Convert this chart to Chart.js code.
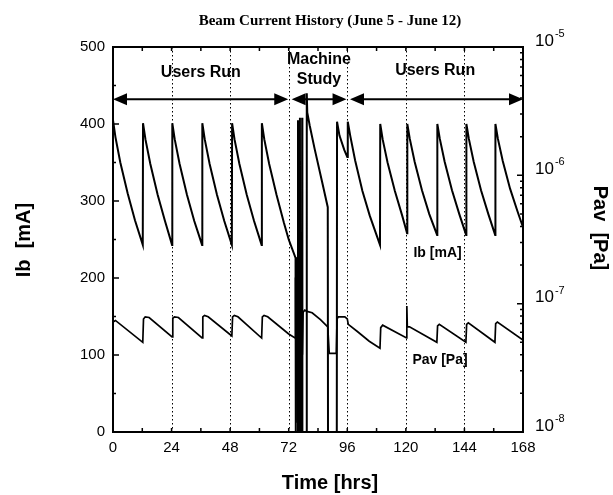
<!DOCTYPE html>
<html>
<head>
<meta charset="utf-8">
<script src="https://cdn.jsdelivr.net/npm/chart.js@4/dist/chart.umd.min.js"></script>
<style>
html, body { margin: 0; padding: 0; background: #fff; }
</style>
</head>
<body>
<canvas id="chart" width="613" height="495"></canvas>
<script>
// beam current, left axis [mA]
var ibHours = [0, 1, 3, 6, 9, 12.2,
  12.3, 13.3, 15.3, 18.3, 21.3, 24.2,
  24.3, 25.3, 27.3, 30.3, 33.3, 36.5,
  36.6, 37.6, 39.6, 42.6, 45.6, 48.7,
  48.8, 49.8, 51.8, 54.8, 57.8, 60.9,
  61.0, 62, 64, 67, 70, 72, 74.8,
  74.9, 75.7, 75.8, 75.9, 76.5, 76.6, 76.7, 77.4, 77.5, 77.6, 79.3, 79.4,
  79.6, 80.6, 82.6, 85.6, 88.0,
  88.1, 91.7, 91.8, 92.8, 94.8, 96.0,
  96.2, 97.2, 99.2, 102.2, 105.2, 109.4,
  109.5, 110.5, 112.5, 115.5, 118.5, 120.5,
  120.6, 121.6, 123.6, 126.6, 129.6, 132.8,
  132.9, 133.9, 135.9, 138.9, 141.9, 144.7,
  144.8, 145.8, 147.8, 150.8, 153.8, 156.6,
  156.7, 157.7, 159.7, 162.7, 165.7, 168];
var ibValues = [405, 383, 350, 310, 275, 243,
  401, 380, 348, 308, 274, 243,
  401, 380, 348, 308, 274, 243,
  401, 380, 348, 308, 274, 243,
  401, 380, 348, 308, 274, 243,
  401, 380, 348, 308, 272, 250, 226,
  0, 0, 405, 0, 0, 408, 0, 0, 408, 0, 0, 440,
  415, 398, 368, 326, 292,
  0, 0, 403, 385, 366, 357,
  403, 385, 353, 313, 281, 243,
  400, 380, 350, 313, 281, 258,
  400, 381, 351, 314, 283, 256,
  400, 381, 351, 314, 283, 256,
  400, 381, 351, 314, 283, 256,
  400, 381, 352, 316, 287, 266];

// average pressure, right axis [Pa]
var pavHours = [0, 1.0, 12.2, 12.5, 13.2, 14.8, 24.2, 24.5, 25.2, 26.8, 36.5,
  36.8, 37.5, 39.0, 48.7, 49.0, 49.7, 51.2, 60.9, 61.2, 61.9, 63.4, 72.0, 74.6,
  74.8, 75.0, 75.2, 75.4, 75.6, 75.8, 76.0, 76.2, 76.4, 76.7, 76.9, 77.1, 77.3, 77.6,
  77.9, 78.6, 79.5, 81.6, 85.0, 88.0, 88.6, 91.5, 91.8, 92.3, 95.0, 96.0,
  96.4, 100.0, 105.0, 109.4, 109.7, 110.5, 120.3, 120.4, 120.6, 121.5, 132.7,
  133.0, 133.7, 144.6, 144.9, 145.6, 156.5, 156.8, 157.5, 168.0];
var pavValues = [7.2e-8, 7.4e-8, 5.0e-8, 7.6e-8, 7.9e-8, 7.8e-8, 5.5e-8, 7.7e-8, 7.9e-8, 7.8e-8, 5.4e-8,
  7.9e-8, 8.1e-8, 7.9e-8, 5.6e-8, 7.9e-8, 8.1e-8, 7.9e-8, 5.4e-8, 7.9e-8, 8.1e-8, 7.9e-8, 5.8e-8, 5.4e-8,
  1.6e-7, 2.2e-8, 2.3e-7, 1.2e-8, 1.9e-7, 3.0e-8, 2.1e-7, 1.1e-8, 1.8e-7, 2.6e-8, 1.5e-7, 1.2e-8, 1.2e-7, 4.0e-8,
  8.6e-8, 8.9e-8, 8.7e-8, 8.5e-8, 7.5e-8, 6.6e-8, 4.1e-8, 4.1e-8, 7.6e-8, 7.9e-8, 7.9e-8, 7.6e-8,
  6.9e-8, 6.1e-8, 5.1e-8, 4.5e-8, 6.5e-8, 6.8e-8, 5.4e-8, 9.6e-8, 6.6e-8, 6.6e-8, 5.0e-8,
  6.7e-8, 6.9e-8, 5.0e-8, 6.9e-8, 7.1e-8, 5.0e-8, 7.0e-8, 7.2e-8, 5.2e-8];

var pavDecades = [-5, -6, -7, -8];

// run phases along the top
var phaseNames = [['Users Run'], ['Machine', 'Study'], ['Users Run']];
var phaseStart = [0, 73.2, 97.1];
var phaseEnd = [71.8, 95.7, 168];
var phaseLabelHour = [36, 84.4, 132];
var phaseArrowLevel = 432;
var phaseLabelLevel = [[467], [483, 458], [469]];

// curve labels
var curveNames = ['Ib [mA]', 'Pav [Pa]'];
var curveLabelHour = [133, 134];
var curveLabelLevel = [232, 93];

var sansFont = "'Liberation Sans', Arial, sans-serif";

function zip(xs, ys) {
    var out = [];
    for (var i = 0; i < xs.length; i++) out.push({x: xs[i], y: ys[i]});
    return out;
}

function arrowHead(ctx, x, y, dir) {
    ctx.beginPath();
    ctx.moveTo(x, y);
    ctx.lineTo(x - dir * 14, y - 6);
    ctx.lineTo(x - dir * 14, y + 6);
    ctx.closePath();
    ctx.fill();
}

var decorPlugin = {
    id: 'decor',
    beforeDatasetsDraw: function (chart) {
        var ctx = chart.ctx, a = chart.chartArea, xs = chart.scales.x;
        ctx.save();
        ctx.strokeStyle = '#000';
        ctx.lineWidth = 1;
        ctx.setLineDash([1.5, 2.5]);
        xs.ticks.forEach(function (t) {
            if (t.value <= xs.min || t.value >= xs.max) return;
            var px = Math.round(xs.getPixelForValue(t.value)) + 0.5;
            ctx.beginPath();
            ctx.moveTo(px, a.top);
            ctx.lineTo(px, a.bottom);
            ctx.stroke();
        });
        ctx.restore();
    },
    afterDraw: function (chart) {
        var ctx = chart.ctx, a = chart.chartArea;
        var xs = chart.scales.x, yl = chart.scales.y, yr = chart.scales.yPav;
        ctx.save();
        ctx.strokeStyle = '#000';
        ctx.fillStyle = '#000';

        // frame
        ctx.lineWidth = 2;
        ctx.strokeRect(a.left, a.top, a.right - a.left, a.bottom - a.top);

        // inner ticks
        ctx.lineWidth = 1.5;
        ctx.beginPath();
        for (var h = xs.min; h <= xs.max; h += 12) {
            var px = xs.getPixelForValue(h);
            ctx.moveTo(px, a.bottom); ctx.lineTo(px, a.bottom - 4);
            ctx.moveTo(px, a.top); ctx.lineTo(px, a.top + 4);
        }
        for (var v = yl.min; v <= yl.max; v += 50) {
            var py = yl.getPixelForValue(v);
            var len = v % 100 === 0 ? 6 : 3;
            ctx.moveTo(a.left, py); ctx.lineTo(a.left + len, py);
        }
        for (var e = -8; e <= -5; e++) {
            for (var m = 1; m <= 9; m++) {
                if (e === -5 && m > 1) break;
                var pr = yr.getPixelForValue(m * Math.pow(10, e));
                ctx.moveTo(a.right, pr); ctx.lineTo(a.right - (m === 1 ? 6 : 3), pr);
            }
        }
        ctx.stroke();

        // right tick labels 10^n
        ctx.textBaseline = 'middle';
        ctx.textAlign = 'left';
        pavDecades.forEach(function (d) {
            var py = yr.getPixelForValue(Math.pow(10, d));
            ctx.font = '17px ' + sansFont;
            ctx.fillText('10', a.right + 12, py - 6);
            var w = ctx.measureText('10').width;
            ctx.font = '11px ' + sansFont;
            ctx.fillText(String(d), a.right + 13 + w, py - 13);
        });

        // chart title
        ctx.textAlign = 'center';
        ctx.font = "bold 15px 'Liberation Serif', 'Times New Roman', serif";
        ctx.fillText('Beam Current History (June 5 - June 12)', 330, 21);

        // axis titles
        ctx.font = 'bold 20px ' + sansFont;
        ctx.fillText('Time [hrs]', 330, 483);
        ctx.save();
        ctx.translate(24, 240);
        ctx.rotate(-Math.PI / 2);
        ctx.fillText('Ib  [mA]', 0, 0);
        ctx.restore();
        ctx.save();
        ctx.translate(600, 228);
        ctx.rotate(Math.PI / 2);
        ctx.fillText('Pav  [Pa]', 0, 0);
        ctx.restore();

        // run phase arrows and labels
        ctx.lineWidth = 2;
        var ay = yl.getPixelForValue(phaseArrowLevel);
        for (var i = 0; i < phaseNames.length; i++) {
            var x1 = xs.getPixelForValue(phaseStart[i]);
            var x2 = xs.getPixelForValue(phaseEnd[i]);
            ctx.beginPath();
            ctx.moveTo(x1 + 10, ay);
            ctx.lineTo(x2 - 10, ay);
            ctx.stroke();
            arrowHead(ctx, x1, ay, -1);
            arrowHead(ctx, x2, ay, 1);
            ctx.font = 'bold 16px ' + sansFont;
            for (var k = 0; k < phaseNames[i].length; k++) {
                ctx.fillText(phaseNames[i][k], xs.getPixelForValue(phaseLabelHour[i]),
                    yl.getPixelForValue(phaseLabelLevel[i][k]));
            }
        }

        // curve labels
        ctx.font = 'bold 14px ' + sansFont;
        for (var j = 0; j < curveNames.length; j++) {
            ctx.fillText(curveNames[j], xs.getPixelForValue(curveLabelHour[j]),
                yl.getPixelForValue(curveLabelLevel[j]));
        }
        ctx.restore();
    }
};

window.addEventListener('load', function () {
    var ctx = document.getElementById('chart');
    new Chart(ctx, {
        type: 'line',
        data: {
            datasets: [{
                label: 'Ib [mA]',
                data: zip(ibHours, ibValues),
                yAxisID: 'y',
                borderColor: '#000',
                borderWidth: 2,
                pointRadius: 0,
                tension: 0
            }, {
                label: 'Pav [Pa]',
                data: zip(pavHours, pavValues),
                yAxisID: 'yPav',
                borderColor: '#000',
                borderWidth: 1.7,
                pointRadius: 0,
                tension: 0
            }]
        },
        options: {
            responsive: false,
            animation: false,
            devicePixelRatio: 1,
            layout: { padding: { top: 47, left: 0, right: 0, bottom: 0 } },
            plugins: { legend: { display: false }, tooltip: { enabled: false } },
            scales: {
                x: {
                    type: 'linear', min: 0, max: 168,
                    grid: { display: false, drawTicks: false },
                    border: { display: false },
                    ticks: { stepSize: 24, maxRotation: 0, autoSkip: false, padding: 7, color: '#000',
                        font: { family: sansFont, size: 15 } },
                    afterFit: function (s) { s.height = 63; }
                },
                y: {
                    position: 'left', min: 0, max: 500,
                    grid: { display: false, drawTicks: false },
                    border: { display: false },
                    ticks: { stepSize: 100, padding: 8, color: '#000',
                        font: { family: sansFont, size: 15 } },
                    afterFit: function (s) { s.width = 113; }
                },
                yPav: {
                    type: 'logarithmic', position: 'right', min: 1e-8, max: 1e-5,
                    grid: { display: false, drawTicks: false },
                    border: { display: false },
                    ticks: { display: false },
                    afterFit: function (s) { s.width = 90; }
                }
            }
        },
        plugins: [decorPlugin]
    });
});
</script>
</body>
</html>
